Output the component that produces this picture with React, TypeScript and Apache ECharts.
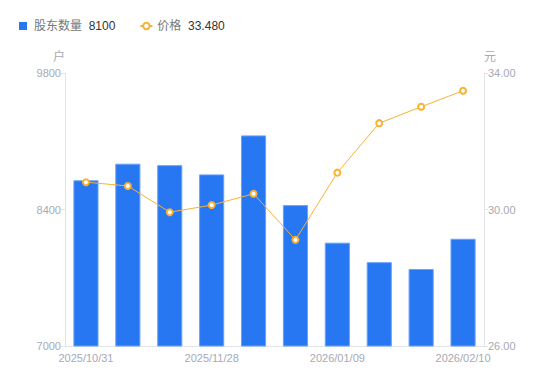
import React, { useEffect, useRef } from "react";
import * as echarts from "echarts";

const categories = [
  "2025/10/31", "2025/11/10", "2025/11/20", "2025/11/28", "2025/12/10",
  "2025/12/19", "2026/01/09", "2026/01/20", "2026/01/30", "2026/02/10",
];
const holders = [8700, 8870, 8855, 8760, 9160, 8445, 8060, 7860, 7790, 8100];
const prices = [30.8, 30.69, 29.92, 30.13, 30.46, 29.11, 31.08, 32.53, 33.01, 33.48];
const leftTicks = { min: 7000, max: 9800, interval: 1400 };
const rightTicks = { min: 26, max: 34, interval: 4 };

const FONT = "'Liberation Sans', 'Noto Sans CJK SC', sans-serif";

export default function App() {
  const ref = useRef<HTMLDivElement>(null);
  useEffect(() => {
    if (!ref.current) return;
    const chart = echarts.init(ref.current, undefined, { renderer: "svg" });
    const lastH = holders[holders.length - 1];
    const lastP = prices[prices.length - 1].toFixed(3);
    const axisLabel = { color: "#a6a9b6", fontSize: 11, fontFamily: FONT };
    const axisLine = { show: true, lineStyle: { color: "#e3e4e8" } };
    chart.setOption({
      animation: false,
      textStyle: { fontFamily: FONT },
      legend: {
        left: 14,
        top: 15,
        itemWidth: 12,
        itemHeight: 8,
        itemGap: 24,
        formatter: (name: string) =>
          `{n|${name}}  {v|${name === "股东数量" ? lastH : lastP}}`,
        textStyle: {
          fontFamily: FONT,
          rich: {
            n: { color: "#777", fontSize: 12, fontFamily: FONT },
            v: { color: "#333", fontSize: 12, fontFamily: FONT },
          },
        },
        data: [
          { name: "股东数量", icon: "path://M0,0h8v8h-8z", itemStyle: { borderWidth: 0 } },
          { name: "价格" },
        ],
      },
      grid: { left: 65, right: 66, top: 73, bottom: 35, containLabel: false },
      xAxis: {
        type: "category",
        data: categories,
        axisLine,
        axisTick: { show: false },
        axisLabel: { ...axisLabel, interval: 2, margin: 6 },
      },
      yAxis: [
        {
          type: "value",
          name: "户",
          nameTextStyle: { color: "#a6a9b6", fontSize: 12, align: "right" },
          nameGap: 10,
          ...leftTicks,
          axisLine,
          axisTick: { show: true, length: 4, lineStyle: { color: "#e3e4e8" } },
          splitLine: { show: false },
          axisLabel: { ...axisLabel, margin: 4, formatter: (v: number) => String(v) },
        },
        {
          type: "value",
          name: "元",
          nameTextStyle: { color: "#a6a9b6", fontSize: 12, align: "left" },
          nameGap: 10,
          ...rightTicks,
          axisLine,
          axisTick: { show: true, length: 4, lineStyle: { color: "#e3e4e8" } },
          splitLine: { show: false },
          axisLabel: { ...axisLabel, margin: 4, formatter: (v: number) => v.toFixed(2) },
        },
      ],
      series: [
        {
          name: "股东数量",
          type: "bar",
          data: holders,
          barWidth: "60%",
          yAxisIndex: 0,
          itemStyle: { color: "#2777f3", borderColor: "#6aa2f8", borderWidth: 1 },
        },
        {
          name: "价格",
          type: "line",
          data: prices,
          yAxisIndex: 1,
          symbol: "emptyCircle",
          symbolSize: 6,
          itemStyle: { color: "#f8b133", borderWidth: 2 },
          lineStyle: { color: "#f8b133", width: 1 },
        },
      ],
    });
    return () => chart.dispose();
  }, []);
  return (
    <div
      ref={ref}
      style={{ position: "absolute", left: 0, top: 0, width: 550, height: 381 }}
    />
  );
}
